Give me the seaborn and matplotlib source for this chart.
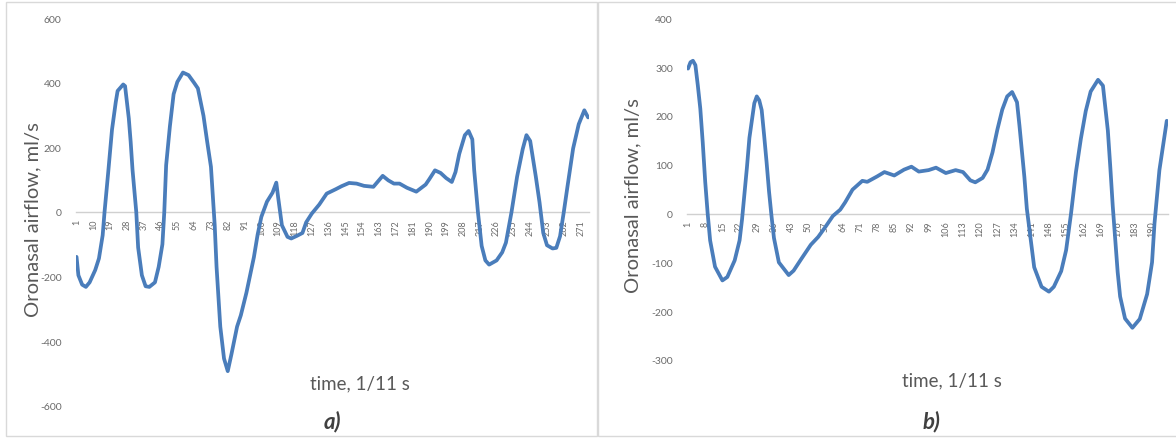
#!/usr/bin/env python3

from matplotlib import pyplot as plt
from matplotlib.patches import Rectangle
import seaborn as sns

# panel a) - sample number (1/11 s) and oronasal airflow (ml/s)
t_a = [1, 2, 4, 6, 8, 11, 13, 15, 16, 18, 20, 22, 23, 26, 27, 29, 30, 31,
       33, 34, 36, 38, 40, 43, 45, 47, 48, 49, 51, 53, 55, 58, 61, 64, 66,
       69, 71, 73, 75, 76, 78, 80, 82, 84, 87, 89, 92, 94, 96, 98, 100, 103,
       106, 108, 109, 111, 114, 116, 119, 122, 124, 127, 131, 135, 140, 143,
       147, 151, 155, 160, 165, 168, 171, 174, 178, 183, 188, 190, 193, 196,
       199, 202, 204, 206, 209, 211, 213, 214, 216, 218, 220, 222, 226, 229,
       231, 234, 237, 240, 242, 244, 247, 249, 251, 253, 256, 258, 260, 262,
       264, 267, 270, 273, 275]
flow_a = [-139, -196, -225, -232, -218, -180, -144, -72, 0, 125, 255, 340,
          375, 395, 390, 290, 217, 130, 0, -110, -196, -230, -232, -218,
          -170, -100, 0, 145, 265, 365, 403, 432, 424, 400, 383, 298, 217,
          140, -40, -170, -355, -454, -493, -440, -355, -320, -250, -195,
          -140, -70, -15, 32, 60, 91, 45, -41, -77, -82, -74, -65, -32, -5,
          23, 57, 71, 80, 90, 88, 81, 78, 112, 98, 88, 88, 75, 63, 85, 102,
          129, 121, 105, 93, 124, 180, 238, 251, 225, 130, 0, -105, -150,
          -163, -150, -125, -95, 0, 110, 195, 238, 220, 110, 30, -65, -103,
          -113, -111, -75, 0, 80, 197, 272, 315, 293]
ticks_a = [1, 10, 19, 28, 37, 46, 55, 64, 73, 82, 91, 100, 109, 118, 127,
           136, 145, 154, 163, 172, 181, 190, 199, 208, 217, 226, 235, 244,
           253, 262, 271]
yticks_a = [-600, -400, -200, 0, 200, 400, 600]

# panel b)
t_b = [1, 2, 3, 4, 5, 6, 7, 8, 9, 10, 12, 15, 17, 20, 22, 23, 25, 26, 28,
       29, 30, 31, 32, 33, 34, 35, 36, 38, 42, 44, 47, 51, 54, 57, 60, 63,
       65, 68, 72, 74, 78, 81, 85, 89, 92, 95, 99, 102, 106, 110, 113, 116,
       118, 121, 123, 125, 127, 129, 131, 133, 135, 136, 138, 139, 141, 142,
       145, 148, 150, 153, 155, 157, 159, 161, 163, 165, 168, 170, 172, 173,
       174, 176, 177, 179, 182, 185, 188, 190, 191, 193, 196]
flow_b = [297, 310, 313, 304, 262, 215, 145, 65, 0, -55, -109, -137, -130,
          -96, -55, -12, 95, 155, 226, 240, 232, 212, 160, 105, 45, -5, -50,
          -100, -126, -117, -94, -64, -48, -27, -5, 8, 23, 49, 67, 65, 76,
          85, 78, 90, 96, 86, 89, 94, 83, 89, 85, 68, 64, 73, 90, 125, 172,
          213, 240, 249, 228, 180, 75, 10, -70, -110, -150, -160, -150, -118,
          -75, 0, 85, 153, 210, 250, 274, 262, 170, 95, 15, -120, -170, -215,
          -234, -216, -165, -100, -20, 89, 190]
ticks_b = [1, 8, 15, 22, 29, 36, 43, 50, 57, 64, 71, 78, 85, 92, 99, 106,
           113, 120, 127, 134, 141, 148, 155, 162, 169, 176, 183, 190]
yticks_b = [-300, -200, -100, 0, 100, 200, 300, 400]

LINE = "#4a7dbb"
GREY = "#6b6b6b"
W, H = 1176, 439


def draw_panel(ax, t, flow, ticks, n, ylim, yticks, dense):
    sns.lineplot(x=t, y=flow, ax=ax, color=LINE, linewidth=2.7,
                 zorder=3, solid_joinstyle="round", solid_capstyle="round")
    ax.set_xlim(0.5, n + 0.5)
    ax.set_ylim(*ylim)
    ax.set_yticks(yticks)
    ax.set_yticklabels([str(v) for v in yticks])
    ax.set_xticks(ticks)
    ax.set_xticklabels([str(v) for v in ticks])
    for s in ["top", "right", "left"]:
        ax.spines[s].set_visible(False)
    ax.spines["bottom"].set_position(("data", 0))
    ax.spines["bottom"].set_color("#d0d0d0")
    ax.spines["bottom"].set_linewidth(1.0)
    ax.tick_params(axis="y", length=0, pad=10, labelsize=7.5,
                   labelcolor=GREY)
    if dense:
        ax.set_xticks([i + 0.5 for i in range(n + 1)], minor=True)
        ax.tick_params(axis="x", which="both", direction="inout",
                       length=4, width=0.5, color="#c8c8c8")
        ax.tick_params(axis="x", which="major", pad=3, labelsize=6.5,
                       labelcolor=GREY, labelrotation=90)
    else:
        ax.tick_params(axis="x", length=0, pad=5, labelsize=6.5,
                       labelcolor=GREY, labelrotation=90)
    ax.set_xlabel("")
    ax.set_ylabel("")
    ax.grid(False)
    ax.patch.set_alpha(0)


def main():
    sns.set_theme(style="white")
    plt.rcParams["font.family"] = ["Lato", "DejaVu Sans"]

    fig = plt.figure(figsize=(W / 100, H / 100), dpi=100)
    fig.patch.set_facecolor("white")

    # panel frames
    fig.patches.append(Rectangle((6 / W, 1 - 437 / H), 591 / W, 434 / H,
                                 transform=fig.transFigure, fill=False,
                                 edgecolor="#d9d9d9", linewidth=1))
    fig.patches.append(Rectangle((598 / W, 1 - 437 / H), 580 / W, 434 / H,
                                 transform=fig.transFigure, fill=False,
                                 edgecolor="#d9d9d9", linewidth=1))

    ax_a = fig.add_axes([75.6 / W, 1 - 406.7 / H, 513.4 / W, 387.4 / H])
    ax_b = fig.add_axes([686.8 / W, 1 - 361 / H, 481.2 / W, 341.7 / H])

    draw_panel(ax_a, t_a, flow_a, ticks_a, 275, (-600, 600), yticks_a, True)
    draw_panel(ax_b, t_b, flow_b, ticks_b, 196, (-300, 400), yticks_b, False)

    label_kw = dict(rotation=90, ha="center", va="center", fontsize=14.5,
                    color="#595959")
    fig.text(33 / W, 1 - 220 / H, "Oronasal airflow, ml/s", **label_kw)
    fig.text(633 / W, 1 - 196 / H, "Oronasal airflow, ml/s", **label_kw)

    fig.text(360 / W, 1 - 384 / H, "time, 1/11 s", ha="center", va="center",
             fontsize=13.5, color="#595959")
    fig.text(952 / W, 1 - 381 / H, "time, 1/11 s", ha="center", va="center",
             fontsize=13.5, color="#595959")

    fig.text(332 / W, 1 - 422 / H, "a)", ha="center", va="center",
             fontsize=16, fontweight="bold", fontstyle="italic",
             color="#404040")
    fig.text(931 / W, 1 - 422 / H, "b)", ha="center", va="center",
             fontsize=16, fontweight="bold", fontstyle="italic",
             color="#404040")

    plt.savefig("out.png", dpi=100)


if __name__ == "__main__":
    main()
